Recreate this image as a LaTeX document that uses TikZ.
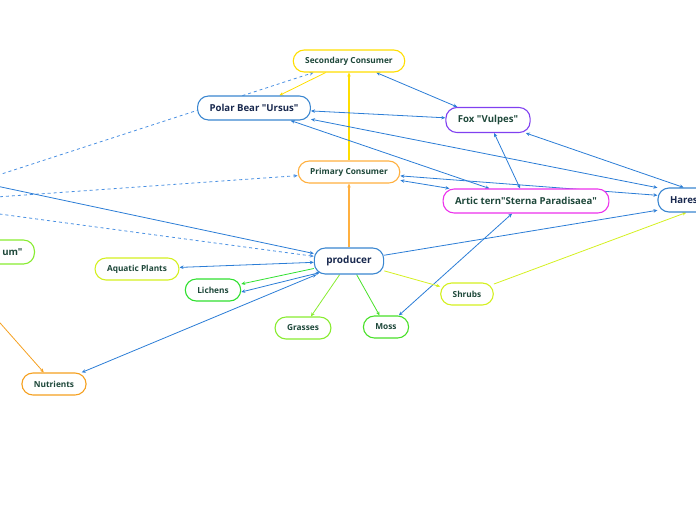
\documentclass[tikz,border=0pt]{standalone}
\usepackage{fontspec}
\setmainfont{Open Sans}[Ligatures=TeXOff]
\usetikzlibrary{arrows.meta,backgrounds,calc,positioning}
\definecolor{linkblue}{RGB}{43,125,214}
\definecolor{dashblue}{RGB}{74,144,226}
\definecolor{secyellow}{RGB}{255,222,0}
\definecolor{primorange}{RGB}{255,176,64}
\definecolor{nutorange}{RGB}{245,160,32}
\definecolor{bearblue}{RGB}{58,134,208}
\definecolor{foxpurple}{RGB}{128,64,240}
\definecolor{ternmagenta}{RGB}{236,48,236}
\definecolor{plantlime}{RGB}{212,240,32}
\definecolor{grassgreen}{RGB}{136,236,48}
\definecolor{mossgreen}{RGB}{72,224,40}
\definecolor{lichengreen}{RGB}{48,224,48}
\definecolor{navytext}{RGB}{24,40,78}
\definecolor{leaftext}{RGB}{30,72,58}

\begin{document}
\begin{tikzpicture}[
    x=1pt, y=-1pt,
    topic/.style={rectangle, draw, fill=white, rounded corners=11pt, line width=1.1pt, inner xsep=12pt, minimum height=22pt, font=\fontsize{8.3}{10}\selectfont\bfseries, text=leaftext},
    main/.style={topic, minimum height=24pt, font=\fontsize{9.6}{11}\selectfont\bfseries, text=navytext},
    link/.style={-{Stealth[length=4pt,width=3.5pt]}, line width=0.8pt, draw=linkblue},
    both/.style={link, {Stealth[length=4pt,width=3.5pt]}-{Stealth[length=4pt,width=3.5pt]}},
    hint/.style={link, draw=dashblue, dashed}
]
\useasboundingbox (0,0) rectangle (696,520);
\clip (0,0) rectangle (696,520);

% consumers
\node[topic, draw=secyellow] (secondary) at (349,61) {Secondary Consumer};
\node[main, draw=bearblue] (bear) at (254,108) {Polar Bear "Ursus"};
\node[main, draw=foxpurple, minimum height=25pt, text=leaftext] (fox) at (488,120) {Fox "Vulpes"};
\node[topic, draw=primorange] (primary) at (349,172) {Primary Consumer};
\node[main, draw=ternmagenta, text=leaftext] (tern) at (526,201) {Artic tern"Sterna Paradisaea"};
\node[main, draw=bearblue, text width=100pt, align=left] (hares) at (720,200) {Hares};

% producers
\node[main, draw=bearblue, minimum height=26pt, font=\fontsize{10}{12}\selectfont\bfseries] (producer) at (349,261) {producer};
\node[topic, draw=plantlime] (aquatic) at (137,269) {Aquatic Plants};
\node[topic, draw=lichengreen] (lichens) at (213,290) {Lichens};
\node[topic, draw=plantlime] (shrubs) at (467,294) {Shrubs};
\node[topic, draw=grassgreen] (grasses) at (303,328) {Grasses};
\node[topic, draw=mossgreen] (moss) at (386,327) {Moss};
\node[topic, draw=nutorange] (nutrients) at (54,384) {Nutrients};
\node[main, draw=grassgreen, text=leaftext, text width=60pt, align=right, anchor=east] (partial) at (35,252) {um"};

% free ends off the left edge
\coordinate (west1) at (-60,194);
\coordinate (west2) at (-60,201);
\coordinate (west3) at (-60,174);
\coordinate (west4) at (-60,206);
\coordinate (west5) at (-60,255);

\begin{scope}[on background layer]
\draw[hint] (west1) -- (secondary);
\draw[hint] (west2) -- (primary);
\draw[link] (west3) -- (producer);
\draw[hint] (west4) -- (producer);
\draw[link, draw=nutorange] (west5) -- (nutrients);

\draw[link, draw=primorange, line width=1.1pt] (producer) -- (primary);
\draw[link, draw=secyellow, line width=1.1pt] (primary) -- (secondary);
\draw[link, draw=secyellow] (secondary) -- (bear);
\draw[both] (secondary) -- (fox);
\draw[both] (bear) -- (fox);
\draw[both] (bear) -- (hares);
\draw[both] (bear) -- (tern);
\draw[both] (fox) -- (hares);
\draw[both] (fox) -- (tern);
\draw[both] (primary) -- (hares);
\draw[both] (primary) -- (tern);
\draw[both] (tern) -- (moss);
\draw[link] (producer) -- (hares);

\draw[link, draw=plantlime] (producer) -- (shrubs);
\draw[link, draw=plantlime] (shrubs) -- (hares);
\draw[link, draw=grassgreen] (producer) -- (grasses);
\draw[link, draw=mossgreen] (producer) -- (moss);
\draw[link, draw=lichengreen] (producer) -- (lichens);
\draw[both] ([yshift=-2pt]lichens.east) -- ($(producer.south west)+(6,-2)$);
\draw[both] (aquatic) -- (producer);
\draw[both] (nutrients) -- (producer);
\end{scope}
\end{tikzpicture}
\end{document}
